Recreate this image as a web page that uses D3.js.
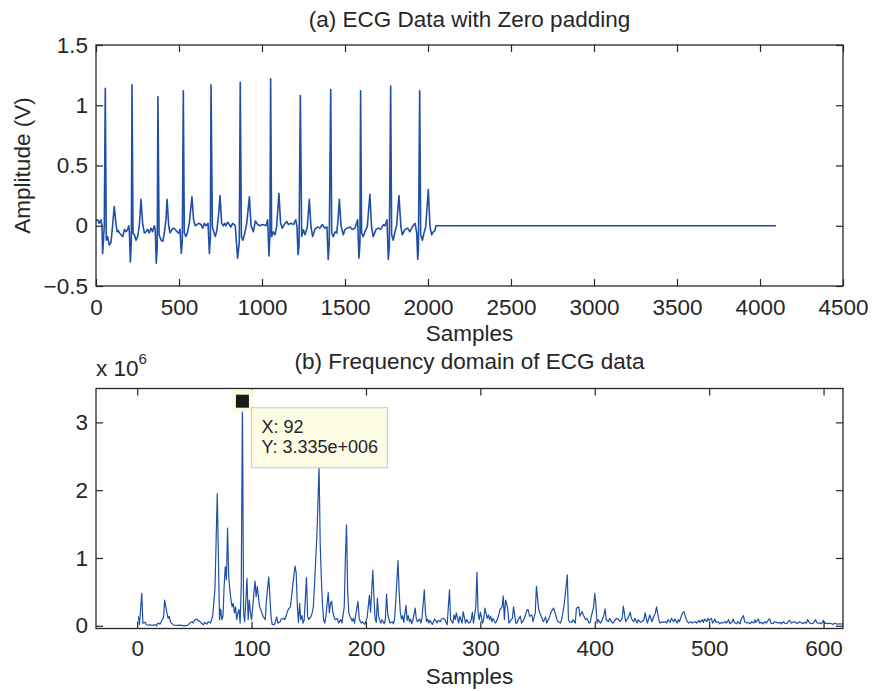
<!DOCTYPE html>
<html lang="en">
<head>
<meta charset="utf-8">
<title>ECG data with zero padding and its frequency domain</title>
<script src="https://d3js.org/d3.v7.min.js"></script>
<style>
  body { margin: 0; background: white; }
  svg { display: block; background: white; font-family: "Liberation Sans", Arial, Helvetica, sans-serif; }
  .axis text { font-size: 22.5px; fill: #262626; }
  .axis line { stroke: #262626; stroke-width: 1.2; }
  .axis path { display: none; }
  .lbl { font-size: 22.5px; fill: #262626; }
</style>
</head>
<body>
<script>
// ECG samples: [sample, amplitude V]; zero padded from 2048 to 4096
var ecgPoints = [
  [0,0.04],[10,0.05],[20,0.02],[30,0.05],[36,0.0],[40,-0.23],[46,-0.09],[50,0.0],[56,1.14],[62,-0.12],
  [70,-0.09],[80,-0.16],[90,-0.14],[100,0.0],[110,0.16],[120,0.02],[127,-0.05],[134,-0.04],[141,-0.06],[151,-0.075],
  [161,-0.09],[171,-0.03],[181,-0.05],[191,-0.03],[197,0.0],[201,-0.05],[207,-0.30],[213,-0.12],[217,1.17],[223,-0.06],
  [231,-0.075],[241,-0.12],[251,-0.09],[261,0.0],[271,0.22],[281,0.02],[291,-0.06],[301,-0.05],[311,-0.03],[321,-0.06],
  [331,-0.02],[341,-0.05],[351,0.0],[357,-0.03],[363,-0.31],[369,-0.17],[373,1.07],[380,-0.075],[392,-0.12],[402,-0.13],
  [412,-0.06],[422,0.06],[428,0.22],[438,0.0],[446,-0.06],[458,-0.03],[468,-0.02],[478,-0.03],[488,-0.05],[498,-0.06],
  [506,-0.03],[514,-0.23],[520,-0.12],[526,1.12],[532,-0.06],[542,-0.09],[552,-0.05],[562,0.02],[578,0.24],[588,0.05],
  [598,0.0],[608,0.01],[618,0.02],[633,0.01],[643,-0.02],[653,0.02],[663,0.0],[675,0.02],[683,-0.23],[689,-0.09],
  [693,1.17],[701,-0.01],[709,-0.05],[719,-0.09],[729,-0.03],[739,0.1],[747,0.25],[757,0.02],[767,0.0],[775,0.02],
  [783,0.0],[793,0.03],[803,0.01],[813,-0.01],[823,0.02],[833,0.01],[839,0.0],[853,-0.27],[863,-0.14],[869,1.19],
  [876,-0.09],[884,-0.12],[894,-0.075],[908,0.02],[924,0.24],[934,0.0],[948,-0.05],[960,0.04],[974,0.01],[988,0.0],
  [1004,0.01],[1024,0.0],[1034,0.05],[1042,-0.25],[1048,-0.06],[1052,1.22],[1058,-0.09],[1068,-0.05],[1078,-0.075],[1088,-0.01],
  [1102,0.27],[1112,0.02],[1122,-0.02],[1134,0.01],[1149,0.036],[1159,0.01],[1175,0.02],[1189,0.01],[1203,0.05],[1211,-0.01],
  [1217,-0.24],[1223,-0.17],[1231,1.08],[1239,-0.09],[1249,-0.033],[1259,-0.075],[1273,-0.01],[1285,0.22],[1295,-0.01],[1305,-0.09],
  [1319,-0.03],[1335,-0.01],[1349,-0.02],[1363,0.01],[1379,-0.02],[1391,-0.01],[1399,-0.28],[1405,-0.14],[1414,1.13],[1420,-0.06],
  [1430,-0.09],[1440,-0.05],[1450,-0.06],[1458,0.05],[1466,0.22],[1476,0.0],[1490,-0.075],[1500,-0.03],[1514,-0.02],[1530,-0.01],
  [1544,-0.03],[1560,-0.02],[1576,0.05],[1584,-0.27],[1590,-0.14],[1594,1.12],[1600,-0.06],[1610,-0.09],[1620,-0.05],[1634,-0.01],
  [1650,0.26],[1660,-0.01],[1670,-0.09],[1687,-0.03],[1701,-0.02],[1715,-0.03],[1731,0.01],[1741,0.0],[1753,0.05],[1761,-0.28],
  [1767,-0.17],[1775,1.16],[1781,-0.075],[1791,-0.12],[1801,-0.05],[1811,0.0],[1825,0.25],[1837,-0.01],[1845,-0.075],[1861,-0.03],
  [1877,-0.02],[1891,-0.05],[1905,-0.01],[1922,0.02],[1932,-0.06],[1938,-0.28],[1942,-0.2],[1950,1.12],[1956,-0.075],[1966,-0.12],
  [1976,-0.06],[1986,-0.01],[2002,0.30],[2012,-0.01],[2022,-0.075],[2032,-0.05],[2042,-0.04],[2048,0.0],[4096,0.0]
];

// magnitude spectrum: [bin, magnitude x 10^6]
var specPoints = [
  [1,0.14],[2,0.02],[4,0.48],[5,0.04],[7,0.05],[8,0.015],[10,0.01],[11,0.015],[13,0.005],[14,0.01],
  [16,0.015],[17,0.0],[18,0.04],[20,0.025],[21,0.06],[23,0.12],[24,0.38],[26,0.19],[27,0.11],[28,0.14],
  [29,0.06],[30,0.04],[32,0.01],[35,0.005],[38,0.01],[41,0.0],[44,0.005],[46,0.04],[48,0.06],[49,0.04],
  [50,0.08],[52,0.1],[53,0.08],[55,0.06],[56,0.04],[58,0.015],[59,0.05],[61,0.025],[62,0.06],[64,0.04],
  [65,0.09],[66,0.14],[68,0.55],[70,1.95],[72,0.09],[73,0.245],[74,0.09],[75,0.14],[76,0.58],[77,0.87],
  [78,0.68],[79,1.44],[80,0.73],[81,0.53],[82,0.38],[83,0.28],[84,0.33],[85,0.19],[86,0.28],[87,0.09],
  [88,0.19],[89,0.24],[90,0.04],[91,0.6],[92,3.335],[93,0.19],[94,0.06],[96,0.70],[97,0.09],[98,0.38],
  [99,0.19],[100,0.09],[101,0.28],[103,0.66],[104,0.43],[105,0.58],[107,0.28],[109,0.19],[110,0.14],[112,0.09],
  [113,0.38],[115,0.72],[117,0.14],[118,0.02],[120,0.015],[122,0.13],[123,0.04],[125,0.06],[126,0.10],[128,0.11],
  [129,0.09],[131,0.19],[132,0.24],[134,0.28],[136,0.6],[138,0.88],[139,0.78],[140,0.3],[141,0.05],[142,0.33],
  [143,0.09],[144,0.15],[145,0.04],[146,0.09],[148,0.71],[149,0.14],[150,0.09],[152,0.14],[153,0.19],[154,0.28],
  [155,0.6],[157,1.3],[159,2.34],[160,1.2],[161,0.70],[162,0.3],[163,0.09],[164,0.04],[165,0.14],[167,0.49],
  [168,0.19],[169,0.33],[170,0.36],[171,0.2],[172,0.14],[173,0.09],[175,0.11],[176,0.04],[178,0.09],[179,0.04],
  [181,0.28],[182,1.0],[183,1.49],[184,0.5],[185,0.19],[186,0.14],[188,0.07],[189,0.11],[190,0.04],[191,0.16],
  [193,0.36],[194,0.12],[195,0.06],[196,0.04],[197,0.06],[198,0.04],[199,0.02],[201,0.12],[203,0.45],[204,0.2],
  [206,0.82],[207,0.4],[208,0.1],[209,0.05],[210,0.41],[211,0.15],[212,0.08],[213,0.04],[214,0.09],[215,0.06],
  [216,0.03],[217,0.1],[218,0.47],[219,0.18],[220,0.1],[221,0.04],[223,0.06],[224,0.03],[225,0.1],[226,0.35],
  [228,0.96],[229,0.5],[230,0.2],[231,0.1],[232,0.15],[233,0.05],[235,0.3],[236,0.08],[237,0.15],[238,0.06],
  [239,0.1],[240,0.03],[241,0.08],[243,0.26],[244,0.1],[245,0.06],[247,0.1],[248,0.04],[249,0.12],[251,0.53],
  [252,0.2],[253,0.06],[254,0.1],[255,0.04],[256,0.08],[258,0.02],[259,0.06],[260,0.1],[262,0.04],[263,0.08],
  [265,0.06],[266,0.10],[268,0.11],[269,0.09],[271,0.015],[272,0.28],[273,0.53],[274,0.09],[276,0.04],[277,0.16],
  [278,0.09],[279,0.19],[281,0.04],[282,0.14],[284,0.04],[285,0.21],[287,0.04],[288,0.09],[290,0.04],[291,0.05],
  [292,0.09],[293,0.2],[294,0.04],[296,0.28],[297,0.79],[298,0.19],[299,0.09],[300,0.2],[302,0.04],[303,0.11],
  [304,0.26],[306,0.11],[307,0.16],[308,0.09],[309,0.14],[310,0.06],[311,0.11],[313,0.04],[314,0.06],[316,0.16],
  [317,0.23],[319,0.28],[320,0.44],[321,0.09],[322,0.38],[323,0.33],[324,0.24],[325,0.04],[327,0.09],[328,0.11],
  [329,0.28],[331,0.04],[332,0.04],[333,0.09],[335,0.14],[336,0.04],[338,0.09],[339,0.14],[341,0.24],[342,0.23],
  [343,0.14],[345,0.16],[346,0.06],[348,0.19],[349,0.58],[351,0.24],[352,0.19],[354,0.11],[355,0.06],[357,0.13],
  [358,0.04],[360,0.11],[361,0.16],[362,0.21],[364,0.26],[365,0.21],[367,0.09],[368,0.06],[370,0.04],[371,0.09],
  [373,0.28],[374,0.43],[376,0.75],[377,0.09],[378,0.06],[380,0.05],[381,0.09],[383,0.04],[384,0.26],[386,0.28],
  [387,0.14],[389,0.21],[390,0.16],[392,0.09],[393,0.11],[395,0.04],[396,0.05],[397,0.14],[399,0.28],[400,0.48],
  [401,0.31],[402,0.04],[403,0.09],[405,0.04],[406,0.06],[408,0.16],[409,0.25],[410,0.09],[412,0.06],[413,0.11],
  [415,0.05],[416,0.04],[418,0.09],[419,0.11],[421,0.09],[422,0.06],[424,0.11],[425,0.29],[427,0.06],[428,0.09],
  [429,0.11],[431,0.2],[432,0.11],[434,0.06],[435,0.11],[437,0.04],[438,0.09],[440,0.05],[441,0.06],[443,0.09],
  [444,0.19],[446,0.04],[447,0.09],[448,0.16],[450,0.06],[451,0.11],[453,0.19],[454,0.28],[456,0.09],[457,0.04],
  [459,0.06],[460,0.05],[462,0.06],[463,0.04],[464,0.09],[466,0.05],[467,0.11],[469,0.06],[470,0.10],[472,0.04],
  [473,0.09],[474,0.06],[476,0.16],[477,0.19],[478,0.21],[480,0.09],[481,0.06],[482,0.04],[484,0.06],[485,0.04],
  [486,0.05],[488,0.06],[489,0.04],[491,0.08],[492,0.05],[494,0.09],[495,0.05],[496,0.10],[498,0.06],[499,0.11],
  [500,0.08],[502,0.11],[503,0.04],[505,0.10],[506,0.05],[508,0.06],[509,0.03],[511,0.05],[512,0.04],[514,0.06],
  [515,0.04],[517,0.09],[518,0.03],[520,0.06],[521,0.10],[522,0.05],[524,0.03],[525,0.06],[527,0.03],[528,0.10],
  [530,0.15],[531,0.06],[533,0.04],[534,0.05],[536,0.03],[537,0.06],[539,0.04],[540,0.09],[541,0.05],[543,0.10],
  [544,0.04],[546,0.05],[547,0.03],[549,0.06],[550,0.04],[552,0.09],[553,0.10],[554,0.04],[556,0.03],[557,0.06],
  [559,0.05],[560,0.04],[562,0.05],[563,0.03],[565,0.06],[566,0.04],[568,0.03],[569,0.06],[570,0.08],[572,0.04],
  [573,0.05],[575,0.06],[576,0.04],[578,0.04],[579,0.06],[581,0.04],[582,0.03],[583,0.05],[585,0.04],[586,0.09],
  [588,0.04],[589,0.03],[591,0.04],[593,0.09],[594,0.05],[595,0.04],[597,0.04],[598,0.03],[600,0.08],[601,0.03],
  [602,0.04],[604,0.03],[605,0.04],[607,0.03],[608,0.02],[610,0.04],[611,0.03],[612,0.025],[614,0.03],[616,0.025],
  [617,0.04]
];

// tick values
var ecgXTicks = [0, 500, 1000, 1500, 2000, 2500, 3000, 3500, 4000, 4500];
var ecgYTicks = [-0.5, 0, 0.5, 1, 1.5];
var specXTicks = [0, 100, 200, 300, 400, 500, 600];
var specYTicks = [0, 1, 2, 3];

var titles = ["(a) ECG Data with Zero padding", "(b) Frequency domain of ECG data"];

var w = 873, h = 691;
var lineColor = "#1f4fa6";
var ink = "#262626";

var svg = d3.select("body").append("svg")
    .attr("width", w)
    .attr("height", h);

// panel boxes
var boxA = { left: 96, right: 843, top: 45, bottom: 286 };
var boxB = { left: 96, right: 843, top: 388.5, bottom: 628.5 };

// scales
var xA = d3.scaleLinear().domain([0, 4500]).range([boxA.left, boxA.right]);
var yA = d3.scaleLinear().domain([-0.5, 1.5]).range([boxA.bottom, boxA.top]);
var xB = d3.scaleLinear().domain([-36, 617]).range([boxB.left, boxB.right]);
var yB = d3.scaleLinear().domain([-0.04, 3.5]).range([boxB.bottom, boxB.top]);

function fmtMinus(d) { return d < 0 ? "\u2212" + Math.abs(d) : "" + d; }

function drawAxes(box, x, y, xt, yt, padX) {
  svg.append("g").attr("class", "axis")
      .attr("transform", "translate(0," + box.bottom + ")")
      .call(d3.axisBottom(x).tickValues(xt).tickSizeInner(-7).tickSizeOuter(0).tickPadding(padX).tickFormat(fmtMinus));
  svg.append("g").attr("class", "axis")
      .attr("transform", "translate(0," + box.top + ")")
      .call(d3.axisTop(x).tickValues(xt).tickSizeInner(-7).tickSizeOuter(0).tickFormat(""));
  svg.append("g").attr("class", "axis")
      .attr("transform", "translate(" + box.left + ",0)")
      .call(d3.axisLeft(y).tickValues(yt).tickSizeInner(-7).tickSizeOuter(0).tickPadding(8).tickFormat(fmtMinus));
  svg.append("g").attr("class", "axis")
      .attr("transform", "translate(" + box.right + ",0)")
      .call(d3.axisRight(y).tickValues(yt).tickSizeInner(-7).tickSizeOuter(0).tickFormat(""));
  svg.append("rect")
      .attr("x", box.left).attr("y", box.top)
      .attr("width", box.right - box.left).attr("height", box.bottom - box.top)
      .attr("fill", "none").attr("stroke", ink).attr("stroke-width", 1.3);
}

// clip paths
function addClip(id, box) {
  svg.append("clipPath").attr("id", id).append("rect")
      .attr("x", box.left).attr("y", box.top)
      .attr("width", box.right - box.left).attr("height", box.bottom - box.top);
}
addClip("clipA", boxA);
addClip("clipB", boxB);

// panel (a) line
var lineA = d3.line().x(function(d) { return xA(d[0]); }).y(function(d) { return yA(d[1]); });
svg.append("path")
    .datum(ecgPoints)
    .attr("clip-path", "url(#clipA)")
    .attr("d", lineA)
    .attr("fill", "none")
    .attr("stroke", lineColor)
    .attr("stroke-width", 1.6)
    .attr("stroke-linejoin", "round");

// panel (b) line
var lineB = d3.line().x(function(d) { return xB(d[0]); }).y(function(d) { return yB(d[1]); });
svg.append("path")
    .datum(specPoints)
    .attr("clip-path", "url(#clipB)")
    .attr("d", lineB)
    .attr("fill", "none")
    .attr("stroke", lineColor)
    .attr("stroke-width", 1.2)
    .attr("stroke-linejoin", "round");

drawAxes(boxA, xA, yA, ecgXTicks, ecgYTicks, 13);
drawAxes(boxB, xB, yB, specXTicks, specYTicks, 12);

// titles and axis labels
svg.append("text").attr("class", "lbl")
    .attr("x", (boxA.left + boxA.right) / 2).attr("y", 27)
    .attr("text-anchor", "middle").text(titles[0]);
svg.append("text").attr("class", "lbl")
    .attr("x", (boxB.left + boxB.right) / 2).attr("y", 369)
    .attr("text-anchor", "middle").text(titles[1]);
svg.append("text").attr("class", "lbl")
    .attr("x", (boxA.left + boxA.right) / 2).attr("y", 341)
    .attr("text-anchor", "middle").text("Samples");
svg.append("text").attr("class", "lbl")
    .attr("x", (boxB.left + boxB.right) / 2).attr("y", 684)
    .attr("text-anchor", "middle").text("Samples");
svg.append("text").attr("class", "lbl")
    .attr("transform", "translate(30," + ((boxA.top + boxA.bottom) / 2) + ") rotate(-90)")
    .attr("text-anchor", "middle").text("Amplitude (V)");

// exponent label
var expo = svg.append("text").attr("class", "lbl")
    .attr("x", 96).attr("y", 376);
expo.append("tspan").text("x 10");
expo.append("tspan").attr("dy", -12).style("font-size", "15px").text("6");

// data cursor at the maximum
var peak = specPoints.reduce(function(a, b) { return b[1] > a[1] ? b : a; });
var px = xB(peak[0]), py = yB(peak[1]);
svg.append("rect")
    .attr("x", px - 11).attr("y", py - 10).attr("width", 22).attr("height", 22)
    .attr("fill", "#fbfbdc");
svg.append("rect")
    .attr("x", px - 6.5).attr("y", py - 5).attr("width", 13).attr("height", 13)
    .attr("fill", "#1a1a1a");

var tip = svg.append("g").attr("transform", "translate(" + (px + 9) + "," + (py + 8) + ")");
tip.append("rect")
    .attr("width", 136).attr("height", 60)
    .attr("fill", "#fdfde6")
    .attr("stroke", "#cfcfcf").attr("stroke-width", 1.2);
var expStr = (peak[1] * 1e6).toExponential(3).replace(/e\+(\d+)/, function(m, e) { return "e+" + ("00" + e).slice(-3); });
tip.append("text").attr("x", 10).attr("y", 25.5)
    .style("font-size", "18px").attr("fill", ink).text("X: " + peak[0]);
tip.append("text").attr("x", 10).attr("y", 45.5)
    .style("font-size", "18px").attr("fill", ink).text("Y: " + expStr);
</script>
</body>
</html>
